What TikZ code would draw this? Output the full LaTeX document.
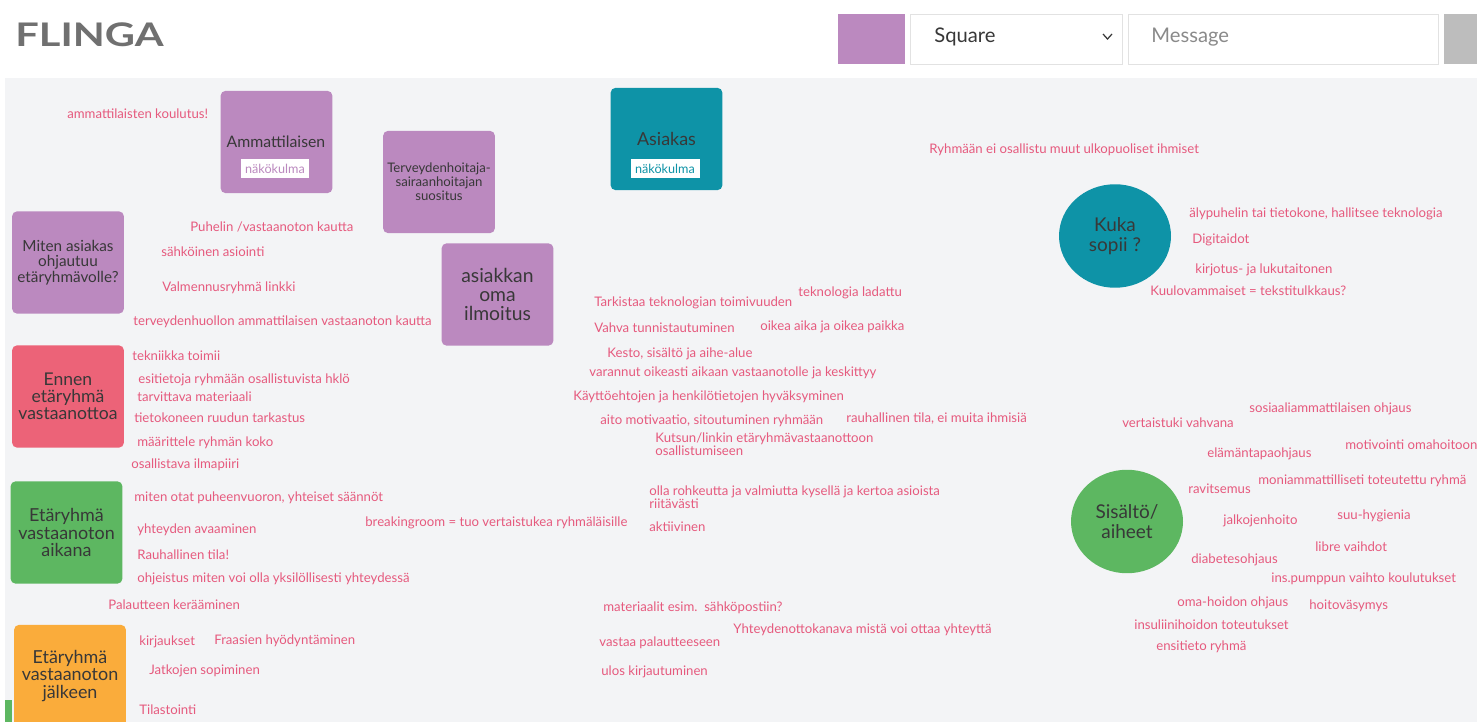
\documentclass[tikz,border=0pt]{standalone}
\usepackage{fontspec}
\setmainfont{Lato}
\usetikzlibrary{shapes.geometric}
\definecolor{canvasgray}{HTML}{F3F4F6}
\definecolor{flpurple}{HTML}{BB89BF}
\definecolor{flteal}{HTML}{0E93A7}
\definecolor{flred}{HTML}{EC6378}
\definecolor{flgreen}{HTML}{5DB761}
\definecolor{florange}{HTML}{FAAC3B}
\definecolor{notepink}{HTML}{E65A7E}
\definecolor{cardtext}{HTML}{383838}
\definecolor{logogray}{HTML}{707070}
\definecolor{fieldline}{HTML}{E2E2E2}
\definecolor{msggray}{HTML}{8A8A8A}
\definecolor{btngray}{HTML}{BDBDBD}
\begin{document}
\begin{tikzpicture}[x=0.02cm,y=0.02cm]
\tikzstyle{every node}+=[inner sep=0pt]
\tikzstyle{note}=[anchor=base west,yshift=-3.3pt,text=notepink,align=left,font=\fontsize{7.5}{7.4}\selectfont]
\tikzstyle{card}=[rounded corners=3pt,minimum width=2.24cm,minimum height=2.05cm,align=center,text=cardtext]
\tikzstyle{disc}=[ellipse,minimum width=2.24cm,minimum height=2.07cm,align=center,text=cardtext,font=\fontsize{10.8}{11.3}\selectfont]
\tikzstyle{tagbox}=[fill=white,minimum width=1.38cm,minimum height=0.38cm,font=\fontsize{7.2}{8}\selectfont]
\clip (0,0) rectangle (1477,-722);
\fill [white] (0,0) rectangle (1477,-722);
\fill [canvasgray] (5,-78) rectangle (1477,-722);
\node [anchor=west,text=logogray,font=\fontsize{18.5}{18}\bfseries\addfontfeature{FakeStretch=1.28}] (logo) at (15,-35) {FLINGA};
\node [fill=flpurple,minimum width=1.34cm,minimum height=1cm] (swatch) at (871.5,-39) {};
\node [draw=fieldline,fill=white,minimum width=4.24cm,minimum height=1cm] (shapefield) at (1016,-39) {};
\node [anchor=west,text=cardtext,font=\fontsize{11.5}{12}\selectfont] (shapetxt) at (934,-37) {Square};
\draw [cardtext,line width=0.7pt] (1103,-34) -- (1107.5,-39) -- (1112,-34);
\node [draw=fieldline,fill=white,minimum width=6.2cm,minimum height=1cm] (msgfield) at (1283,-39) {};
\node [anchor=west,text=msggray,font=\fontsize{11.5}{12}\selectfont] (msgtxt) at (1151,-37) {Message};
\fill [btngray] (1444,-14) rectangle (1480,-64);
\fill [flgreen] (5,-700) rectangle (12,-722);
\node [card,fill=flpurple] (amm) at (276.5,-142) {};
\node [text=cardtext,font=\fontsize{9}{9}\selectfont] (ammtitle) at (276,-142) {Ammattilaisen};
\node [tagbox,text=flpurple] (ammtag) at (275,-168.5) {näkökulma};
\node [card,fill=flpurple,font=\fontsize{7.5}{8}\selectfont] (terv) at (439,-182) {Terveydenhoitaja-\\sairaanhoitajan\\suositus};
\node [card,fill=flteal] (asiakas) at (666.5,-139) {};
\node [text=cardtext,font=\fontsize{10.2}{10}\selectfont] (asiakastitle) at (666.5,-139) {Asiakas};
\node [tagbox,text=flteal] (asiakastag) at (665,-169) {näkökulma};
\node [card,fill=flpurple,font=\fontsize{8.7}{8.7}\selectfont] (miten) at (68,-262.5) {Miten asiakas\\ohjautuu\\etäryhmävolle?};
\node [card,fill=flpurple,font=\fontsize{11}{10.7}\selectfont] (ilmoitus) at (497.5,-294.5) {asiakkan\\oma\\ilmoitus};
\node [card,fill=flred,font=\fontsize{10}{9.7}\selectfont] (ennen) at (68,-396.5) {Ennen\\etäryhmä\\vastaanottoa};
\node [card,fill=flgreen,font=\fontsize{10.2}{9.9}\selectfont] (aikana) at (66.5,-532.5) {Etäryhmä\\vastaanoton\\aikana};
\node [card,fill=florange,font=\fontsize{10.2}{9.9}\selectfont] (jalkeen) at (70,-676) {Etäryhmä\\vastaanoton\\jälkeen};
\node [disc,fill=flteal] (kuka) at (1115,-236) {Kuka\\sopii ?};
\node [disc,fill=flgreen] (sisalto) at (1127,-521.5) {Sisältö/\\aiheet};
\node [note] (n1) at (67,-113) {ammattilaisten koulutus!};
\node [note] (n2) at (190,-226) {Puhelin /vastaanoton kautta};
\node [note] (n3) at (161,-251) {sähköinen asiointi};
\node [note] (n4) at (162,-286) {Valmennusryhmä linkki};
\node [note] (n5) at (133,-320) {terveydenhuollon ammattilaisen vastaanoton kautta};
\node [note] (n6) at (132,-355) {tekniikka toimii};
\node [note] (n7) at (138,-378) {esitietoja ryhmään osallistuvista hklö};
\node [note] (n8) at (137,-396) {tarvittava materiaali};
\node [note] (n9) at (134,-417) {tietokoneen ruudun tarkastus};
\node [note] (n10) at (137,-441) {määrittele ryhmän koko};
\node [note] (n11) at (131,-463) {osallistava ilmapiiri};
\node [note] (n12) at (134,-496) {miten otat puheenvuoron, yhteiset säännöt};
\node [note] (n13) at (137,-528) {yhteyden avaaminen};
\node [note] (n14) at (137,-554) {Rauhallinen tila!};
\node [note] (n15) at (137,-577) {ohjeistus miten voi olla yksilöllisesti yhteydessä};
\node [note] (n16) at (108,-604) {Palautteen kerääminen};
\node [note] (n17) at (139,-640) {kirjaukset};
\node [note] (n18) at (214,-639) {Fraasien hyödyntäminen};
\node [note] (n19) at (149,-669) {Jatkojen sopiminen};
\node [note] (n20) at (139,-709) {Tilastointi};
\node [note] (n21) at (365,-521) {breakingroom = tuo vertaistukea ryhmäläisille};
\node [note] (n22) at (649,-503) {olla rohkeutta ja valmiutta kysellä ja kertoa asioista\\riitävästi};
\node [note] (n23) at (649,-526) {aktiivinen};
\node [note] (n24) at (594,-301) {Tarkistaa teknologian toimivuuden};
\node [note] (n25) at (798,-291) {teknologia ladattu};
\node [note] (n26) at (594,-327) {Vahva tunnistautuminen};
\node [note] (n27) at (760,-325) {oikea aika ja oikea paikka};
\node [note] (n28) at (607,-352) {Kesto, sisältö ja aihe-alue};
\node [note] (n29) at (589,-371) {varannut oikeasti aikaan vastaanotolle ja keskittyy};
\node [note] (n30) at (573,-395) {Käyttöehtojen ja henkilötietojen hyväksyminen};
\node [note] (n31) at (600,-419) {aito motivaatio, sitoutuminen ryhmään};
\node [note] (n32) at (846,-417) {rauhallinen tila, ei muita ihmisiä};
\node [note] (n33) at (655,-450) {Kutsun/linkin etäryhmävastaanottoon\\osallistumiseen};
\node [note] (n34) at (603,-606) {materiaalit esim.\ \ sähköpostiin?};
\node [note] (n35) at (733,-628) {Yhteydenottokanava mistä voi ottaa yhteyttä};
\node [note] (n36) at (599,-641) {vastaa palautteeseen};
\node [note] (n37) at (601,-670) {ulos kirjautuminen};
\node [note] (n38) at (929,-148) {Ryhmään ei osallistu muut ulkopuoliset ihmiset};
\node [note] (n39) at (1189,-212) {älypuhelin tai tietokone, hallitsee teknologia};
\node [note] (n40) at (1192,-238) {Digitaidot};
\node [note] (n41) at (1195,-268) {kirjotus- ja lukutaitonen};
\node [note] (n42) at (1150,-290) {Kuulovammaiset = tekstitulkkaus?};
\node [note] (n43) at (1249,-407) {sosiaaliammattilaisen ohjaus};
\node [note] (n44) at (1122,-422) {vertaistuki vahvana};
\node [note] (n45) at (1207,-452) {elämäntapaohjaus};
\node [note] (n46) at (1345,-444) {motivointi omahoitoon};
\node [note] (n47) at (1188,-488) {ravitsemus};
\node [note] (n48) at (1258,-479) {moniammattilliseti toteutettu ryhmä};
\node [note] (n49) at (1223,-519) {jalkojenhoito};
\node [note] (n50) at (1337,-514) {suu-hygienia};
\node [note] (n51) at (1315,-546) {libre vaihdot};
\node [note] (n52) at (1191,-558) {diabetesohjaus};
\node [note] (n53) at (1271,-577) {ins.pumppun vaihto koulutukset};
\node [note] (n54) at (1177,-601) {oma-hoidon ohjaus};
\node [note] (n55) at (1309,-604) {hoitoväsymys};
\node [note] (n56) at (1134,-624) {insuliinihoidon toteutukset};
\node [note] (n57) at (1156,-645) {ensitieto ryhmä};
\end{tikzpicture}
\end{document}
